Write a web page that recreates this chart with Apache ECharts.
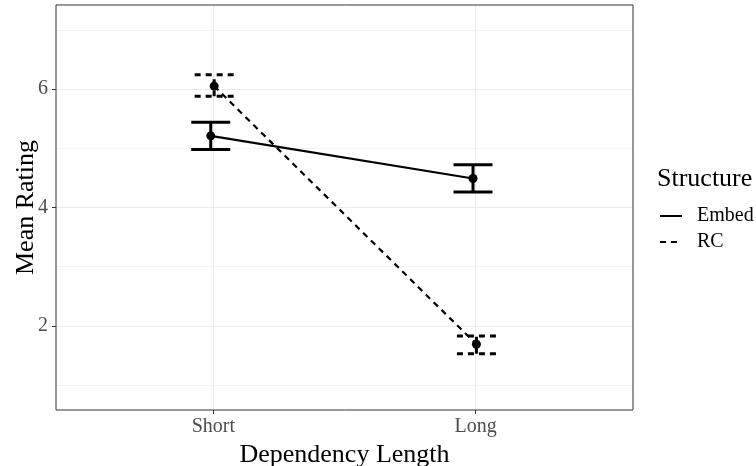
<!DOCTYPE html>
<html>
<head>
<meta charset="utf-8">
<script src="https://cdn.jsdelivr.net/npm/echarts@6/dist/echarts.min.js"></script>
<style>
  html, body { margin: 0; padding: 0; background: #fff; }
  #main { width: 756px; height: 466px; }
</style>
</head>
<body>
<div id="main"></div>
<script>
  // categories on the x axis (positions 1, 2)
  var categories = ['Short', 'Long'];
  var catPos = [1, 2];
  // means and error bar limits
  var embedMean = [5.21, 4.49];
  var embedLow = [4.98, 4.26];
  var embedHigh = [5.44, 4.72];
  var rcMean = [6.05, 1.69];
  var rcLow = [5.88, 1.53];
  var rcHigh = [6.24, 1.83];
  // small dodge of the groups
  var dodge = { Embed: -0.01, RC: 0.003 };
  var yTicks = [2, 4, 6];
  var yMinor = [1, 3, 5, 7];

  var serif = 'Liberation Serif';

  function pts(name, vals) {
    return vals.map(function (v, i) { return [catPos[i] + dodge[name], v]; });
  }
  function bars(name, lo, hi) {
    return lo.map(function (v, i) { return [catPos[i] + dodge[name], v, hi[i]]; });
  }

  function errorBar(type) {
    return function (params, api) {
      var x = api.value(0);
      var lo = api.coord([x, api.value(1)]);
      var hi = api.coord([x, api.value(2)]);
      var half = 19.5;
      var style = { stroke: '#000', lineWidth: 3, lineDash: type === 'dashed' ? [6, 5] : null };
      return {
        type: 'group',
        children: [
          { type: 'line', shape: { x1: lo[0], y1: lo[1], x2: hi[0], y2: hi[1] }, style: style },
          { type: 'line', shape: { x1: lo[0] - half, y1: lo[1], x2: lo[0] + half, y2: lo[1] }, style: style },
          { type: 'line', shape: { x1: hi[0] - half, y1: hi[1], x2: hi[0] + half, y2: hi[1] }, style: style }
        ]
      };
    };
  }

  var chart = echarts.init(document.getElementById('main'));
  chart.setOption({
    animation: false,
    title: {
      text: 'Structure',
      left: 652, top: 161,
      textStyle: { fontFamily: serif, fontSize: 26, fontWeight: 'normal', color: '#000' }
    },
    legend: {
      data: ['Embed', 'RC'],
      orient: 'vertical',
      left: 654, top: 201,
      itemWidth: 22, itemHeight: 16, itemGap: 6,
      itemStyle: { opacity: 0 },
      textStyle: { fontFamily: serif, fontSize: 20, color: '#000', padding: [0, 0, 0, 10] }
    },
    grid: { left: 56, right: 123, top: 5, bottom: 56, containLabel: false, outerBoundsMode: 'none' },
    xAxis: [{
      type: 'value', min: 0.4, max: 2.6,
      name: 'Dependency Length', nameLocation: 'middle', nameGap: 26,
      nameTextStyle: { fontFamily: serif, fontSize: 26, color: '#000' },
      axisLine: { show: false },
      axisTick: { show: true, customValues: catPos, length: 4, lineStyle: { color: '#333' } },
      axisLabel: {
        customValues: catPos, margin: 7,
        fontFamily: serif, fontSize: 20, color: '#4D4D4D',
        formatter: function (v) { return categories[catPos.indexOf(v)] || ''; }
      },
      splitLine: { show: true, lineStyle: { color: '#EBEBEB', width: 1 } }
    }],
    yAxis: [{
      type: 'value', min: 0.58, max: 7.42,
      name: 'Mean Rating', nameLocation: 'middle', nameGap: 17, nameMoveOverlap: false,
      nameTextStyle: { fontFamily: serif, fontSize: 26, color: '#000' },
      axisLine: { show: false },
      axisTick: { show: true, customValues: yTicks, length: 4, lineStyle: { color: '#333' } },
      axisLabel: { customValues: yTicks, margin: 8, fontFamily: serif, fontSize: 20, color: '#4D4D4D' },
      splitLine: { show: true, lineStyle: { color: '#EBEBEB', width: 1 } }
    }, {
      type: 'value', min: 0.58, max: 7.42, position: 'left',
      axisLine: { show: false },
      axisTick: { show: false, customValues: yMinor },
      axisLabel: { show: false, customValues: yMinor },
      splitLine: { show: true, lineStyle: { color: '#F5F5F5', width: 1 } },
      z: 0
    }],
    series: [
      {
        name: 'Embed', type: 'line', data: pts('Embed', embedMean),
        symbol: 'none', lineStyle: { color: '#000', width: 2.2, type: 'solid' },
        itemStyle: { color: '#000' }, z: 3
      },
      {
        name: 'RC', type: 'line', data: pts('RC', rcMean),
        symbol: 'none', lineStyle: { color: '#000', width: 2.2, type: [6, 5] },
        itemStyle: { color: '#000' }, z: 3
      },
      {
        name: 'EmbedErr', type: 'custom', data: bars('Embed', embedLow, embedHigh),
        renderItem: errorBar('solid'), encode: { x: 0, y: [1, 2] }, z: 4
      },
      {
        name: 'RCErr', type: 'custom', data: bars('RC', rcLow, rcHigh),
        renderItem: errorBar('dashed'), encode: { x: 0, y: [1, 2] }, z: 4
      },
      {
        name: 'EmbedPts', type: 'scatter', data: pts('Embed', embedMean),
        symbolSize: 9, itemStyle: { color: '#000', opacity: 1 }, z: 5
      },
      {
        name: 'RCPts', type: 'scatter', data: pts('RC', rcMean),
        symbolSize: 9, itemStyle: { color: '#000', opacity: 1 }, z: 5
      }
    ],
    graphic: [{
      type: 'rect', z: 10, silent: true,
      shape: { x: 56, y: 5, width: 577, height: 405 },
      style: { fill: 'none', stroke: '#333', lineWidth: 1 }
    }]
  });
</script>
</body>
</html>
